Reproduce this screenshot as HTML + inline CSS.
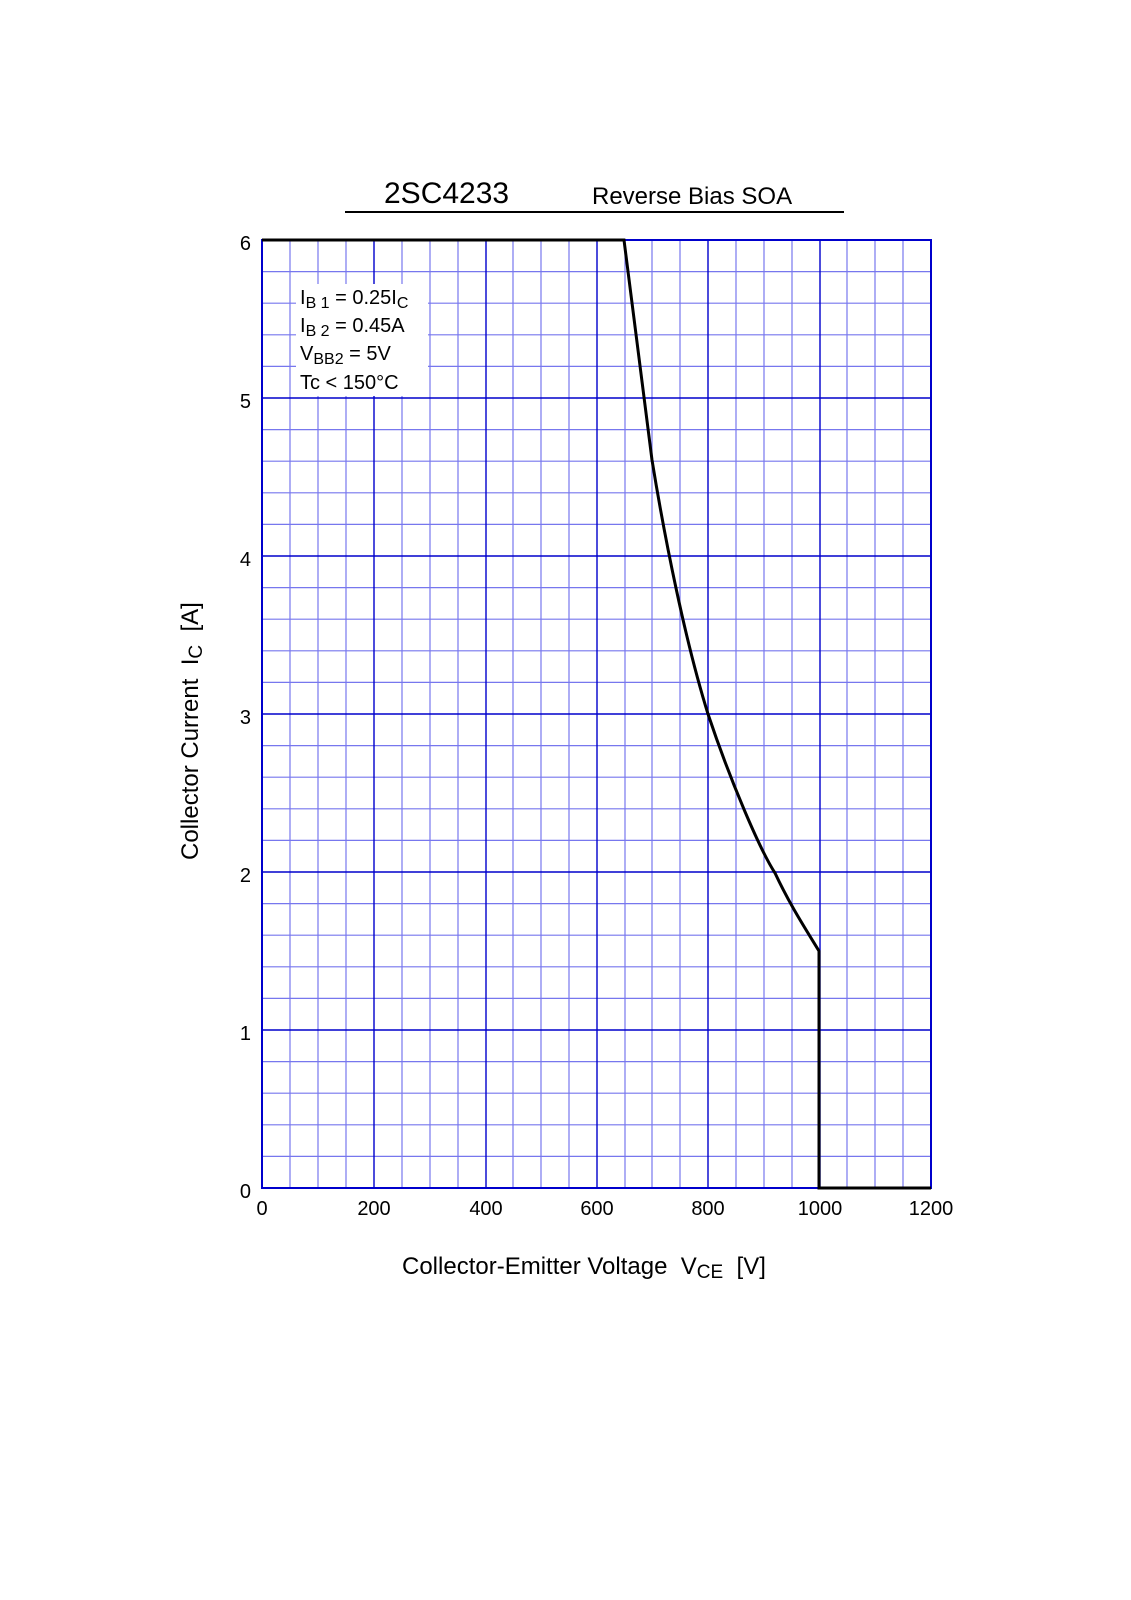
<!DOCTYPE html>
<html><head><style>html,body{margin:0;padding:0;background:#fff;overflow:hidden;width:1131px;height:1600px}svg{display:block}</style></head><body>
<svg width="1131" height="1600" viewBox="0 0 1131 1600" xmlns="http://www.w3.org/2000/svg" font-family="Liberation Sans, Arial, sans-serif">
<rect width="1131" height="1600" fill="#fff"/>
<g stroke="#7777ee" stroke-width="1.2">
<path d="M290 240V1188M318 240V1188M346 240V1188M402 240V1188M430 240V1188M458 240V1188M513 240V1188M541 240V1188M569 240V1188M625 240V1188M652 240V1188M680 240V1188M736 240V1188M764 240V1188M792 240V1188M847 240V1188M875 240V1188M903 240V1188"/>
<path d="M262 271.6H931M262 303.2H931M262 334.8H931M262 366.4H931M262 429.6H931M262 461.2H931M262 492.8H931M262 524.4H931M262 587.6H931M262 619.2H931M262 650.8H931M262 682.4H931M262 745.6H931M262 777.2H931M262 808.8H931M262 840.4H931M262 903.6H931M262 935.2H931M262 966.8H931M262 998.4H931M262 1061.6H931M262 1093.2H931M262 1124.8H931M262 1156.4H931"/>
</g>
<g stroke="#0000cc" stroke-width="1.4">
<path d="M374 240V1188M486 240V1188M597 240V1188M708 240V1188M820 240V1188"/>
<path d="M262 398H931M262 556H931M262 714H931M262 872H931M262 1030H931"/>
</g>
<rect x="296" y="284" width="132" height="112" fill="#fff"/>
<rect x="262" y="240" width="669" height="948" fill="none" stroke="#0000cc" stroke-width="2"/>
<path d="M262 240H624 C632 300,640 370,652 460 C665 540,685 640,708 714 C730 780,760 850,775 873 C790 905,805 928,819 951 V1188 H931" fill="none" stroke="#000" stroke-width="3"/>
<g font-size="20" fill="#000" xml:space="preserve">
<text x="300" y="304">I<tspan font-size="16" dy="4">B 1</tspan><tspan dy="-4"> = 0.25I</tspan><tspan font-size="16" dy="4">C</tspan></text>
<text x="300" y="332">I<tspan font-size="16" dy="4">B 2</tspan><tspan dy="-4"> = 0.45A</tspan></text>
<text x="300" y="360">V<tspan font-size="16" dy="4">BB2</tspan><tspan dy="-4"> = 5V</tspan></text>
<text x="300" y="389">Tc &lt; 150°C</text>
</g>
<g font-size="20" text-anchor="end">
<text x="251" y="250">6</text><text x="251" y="408">5</text><text x="251" y="566">4</text>
<text x="251" y="724">3</text><text x="251" y="882">2</text><text x="251" y="1040">1</text><text x="251" y="1198">0</text>
</g>
<g font-size="20" text-anchor="middle">
<text x="262" y="1215">0</text><text x="374" y="1215">200</text><text x="486" y="1215">400</text>
<text x="597" y="1215">600</text><text x="708" y="1215">800</text><text x="820" y="1215">1000</text><text x="931" y="1215">1200</text>
</g>
<text x="402" y="1274" font-size="24" xml:space="preserve">Collector-Emitter Voltage  V<tspan font-size="19" dy="4">CE</tspan><tspan dy="-4">  [V]</tspan></text>
<text transform="translate(198,860) rotate(-90)" font-size="24" xml:space="preserve">Collector Current  I<tspan font-size="19" dy="4">C</tspan><tspan dy="-4">  [A]</tspan></text>
<text x="384" y="203" font-size="30">2SC4233</text>
<text x="592" y="204" font-size="24">Reverse Bias SOA</text>
<line x1="345" y1="212" x2="844" y2="212" stroke="#000" stroke-width="2"/>
</svg>
</body></html>
